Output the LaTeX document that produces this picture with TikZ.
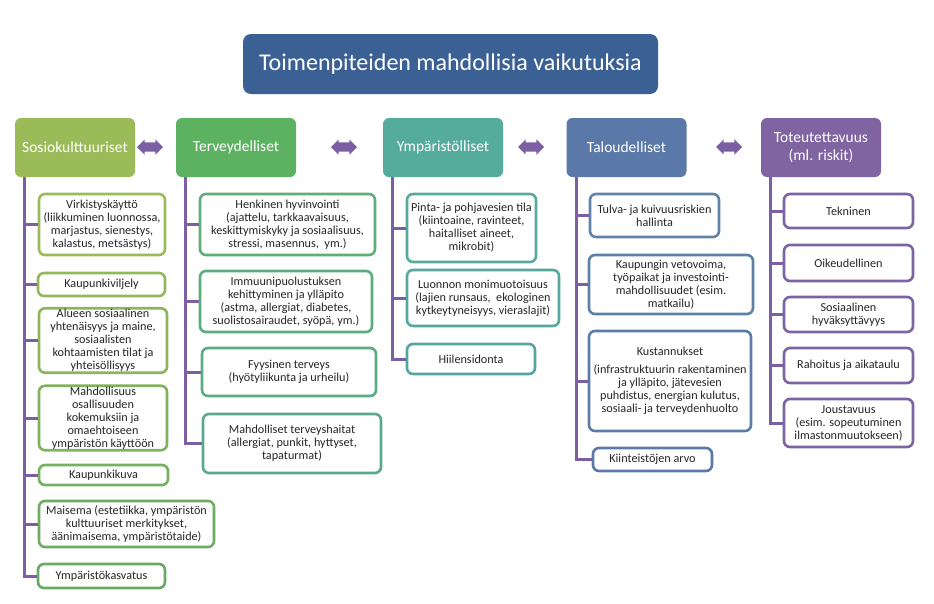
\documentclass[tikz,border=0pt]{standalone}
\usepackage{fontspec}
\setmainfont{Carlito}
\usetikzlibrary{shapes.arrows}
\definecolor{titleblue}{HTML}{3B6094}
\definecolor{linkpurple}{HTML}{7C5FA3}
\definecolor{sosio}{HTML}{9BBB59}
\definecolor{terveys}{HTML}{5DB262}
\definecolor{ymparisto}{HTML}{55AC9D}
\definecolor{talous}{HTML}{5B79A8}
\definecolor{toteutus}{HTML}{8064A2}
\definecolor{sosioA}{HTML}{9BBB59}
\definecolor{sosioB}{HTML}{93B85A}
\definecolor{sosioC}{HTML}{8BB65B}
\definecolor{sosioD}{HTML}{80B25D}
\definecolor{sosioE}{HTML}{76AF5F}
\definecolor{sosioF}{HTML}{6DAC61}
\definecolor{sosioG}{HTML}{66AA63}
\definecolor{terveysA}{HTML}{5EAE76}
\definecolor{terveysB}{HTML}{5CAD7E}
\definecolor{terveysC}{HTML}{5BAB86}
\definecolor{terveysD}{HTML}{5AA98E}
\definecolor{ymparistoA}{HTML}{57A99A}
\definecolor{ymparistoB}{HTML}{56A79E}
\definecolor{ymparistoC}{HTML}{56A5A2}
\definecolor{talousA}{HTML}{5F85A6}
\definecolor{talousB}{HTML}{5D80A7}
\definecolor{talousC}{HTML}{5C7CA8}
\definecolor{talousD}{HTML}{5B79A8}
\definecolor{toteutusA}{HTML}{7A64A3}
\begin{document}
\begin{tikzpicture}[x=1pt, y=-1pt, every node/.style={font=\fontsize{12.2}{13}\selectfont, text=black!85},
  head/.style={rounded corners=6pt, text=white, minimum width=120pt, minimum height=59pt, align=center, font=\fontsize{15.5}{18}\selectfont},
  sub/.style={draw, line width=2.6pt, rounded corners=6pt, fill=white, align=center, inner sep=1pt},
  branch/.style={draw=linkpurple, line width=3pt},
  twoway/.style={double arrow, fill=linkpurple, minimum height=26pt, inner sep=4.5pt, double arrow head extend=3pt}]
\useasboundingbox (0,0) rectangle (934,603);
\node[fill=titleblue, rounded corners=8pt, text=white, minimum width=415pt, minimum height=60pt, font=\fontsize{24}{28}\selectfont] (title) at (450.5,64) {Toimenpiteiden mahdollisia vaikutuksia};
% otsikot
\foreach \n/\x/\col/\txt in {1/75/sosio/Sosiokulttuuriset,2/236/terveys/Terveydelliset,3/443/ymparisto/Ympäristölliset,4/626.5/talous/Taloudelliset,5/821/toteutus/{Toteutettavuus\\(ml. riskit)}} {
  \node[head, fill=\col] (h\n) at (\x,147.5) {\txt};
  \coordinate (v\n) at ([xshift=10pt]h\n.south west);
}
\foreach \x/\n in {150/1,344/2,531/3,729/4} \node[twoway] (a\n) at (\x,147) {};
% sosiokulttuuriset
\foreach \n/\x/\y/\w/\h/\col/\txt in {
  1/102/224.5/126/61/sosioA/{Virkistyskäyttö\\(liikkuminen luonnossa,\\marjastus, sienestys,\\kalastus, metsästys)},
  2/101.5/284.5/127/23/sosioB/Kaupunkiviljely,
  3/103/340.5/128/61/sosioC/{Alueen sosiaalinen\\yhtenäisyys ja maine,\\sosiaalisten\\kohtaamisten tilat ja\\yhteisöllisyys},
  4/103/418/128/60/sosioD/{Mahdollisuus\\osallisuuden\\kokemuksiin ja\\omaehtoiseen\\ympäristön käyttöön},
  5/103.5/475/129/20/sosioE/Kaupunkikuva,
  6/126.5/524/175/46/sosioF/{Maisema (estetiikka, ympäristön\\kulttuuriset merkitykset,\\äänimaisema, ympäristötaide)},
  7/101.5/576/127/24/sosioG/Ympäristökasvatus} {
  \node[sub, draw=\col, minimum width=\w pt, minimum height=\h pt] (s\n) at (\x,\y) {\txt};
  \draw[branch] (v1) |- (s\n.west);
}
% terveydelliset
\foreach \n/\x/\y/\w/\h/\col/\txt in {
  1/287.5/224.5/175/61/terveysA/{Henkinen hyvinvointi\\(ajattelu, tarkkaavaisuus,\\keskittymiskyky ja sosiaalisuus,\\stressi, masennus,\ \ ym.)},
  2/286/301.5/172/61/terveysB/{Immuunipuolustuksen\\kehittyminen ja ylläpito\\(astma, allergiat, diabetes,\\suolistosairaudet, syöpä, ym.)},
  3/289/372/174/48/terveysC/{Fyysinen terveys\\(hyötyliikunta ja urheilu)},
  4/292/443.5/178/59/terveysD/{Mahdolliset terveyshaitat\\(allergiat, punkit, hyttyset,\\tapaturmat)}} {
  \node[sub, draw=\col, minimum width=\w pt, minimum height=\h pt] (t\n) at (\x,\y) {\txt};
  \draw[branch] (v2) |- (t\n.west);
}
% ympäristölliset
\foreach \n/\x/\y/\w/\h/\col/\txt in {
  1/471.5/228/129/68/ymparistoA/{Pinta- ja pohjavesien tila\\(kiintoaine, ravinteet,\\haitalliset aineet,\\mikrobit)},
  2/483/298/152/56/ymparistoB/{Luonnon monimuotoisuus\\(lajien runsaus,\ \ ekologinen\\kytkeytyneisyys, vieraslajit)},
  3/471/359/128/30/ymparistoC/Hiilensidonta} {
  \node[sub, draw=\col, minimum width=\w pt, minimum height=\h pt] (y\n) at (\x,\y) {\txt};
  \draw[branch] (v3) |- (y\n.west);
}
% taloudelliset
\foreach \n/\x/\y/\w/\h/\col/\txt in {
  1/654.5/215.5/129/43/talousA/{Tulva- ja kuivuusriskien\\hallinta},
  2/671/284.5/164/59/talousB/{Kaupungin vetovoima,\\työpaikat ja investointi-\\mahdollisuudet (esim.\\matkailu)},
  3/670/381/162/100/talousC/{Kustannukset\\[5pt](infrastruktuurin rakentaminen\\ja ylläpito, jätevesien\\puhdistus, energian kulutus,\\sosiaali- ja terveydenhuolto},
  4/652.5/459.5/119/23/talousD/Kiinteistöjen arvo} {
  \node[sub, draw=\col, minimum width=\w pt, minimum height=\h pt] (e\n) at (\x,\y) {\txt};
  \draw[branch] (v4) |- (e\n.west);
}
% toteutettavuus
\foreach \n/\y/\h/\txt in {1/211/34/Tekninen,2/263/36/Oikeudellinen,3/314.5/35/{Sosiaalinen\\hyväksyttävyys},4/365.5/35/Rahoitus ja aikataulu,5/423/48/{Joustavuus\\(esim. sopeutuminen\\ilmastonmuutokseen)}} {
  \node[sub, draw=toteutusA, minimum width=129pt, minimum height=\h pt] (r\n) at (848.5,\y) {\txt};
  \draw[branch] (v5) |- (r\n.west);
}
\end{tikzpicture}
\end{document}
